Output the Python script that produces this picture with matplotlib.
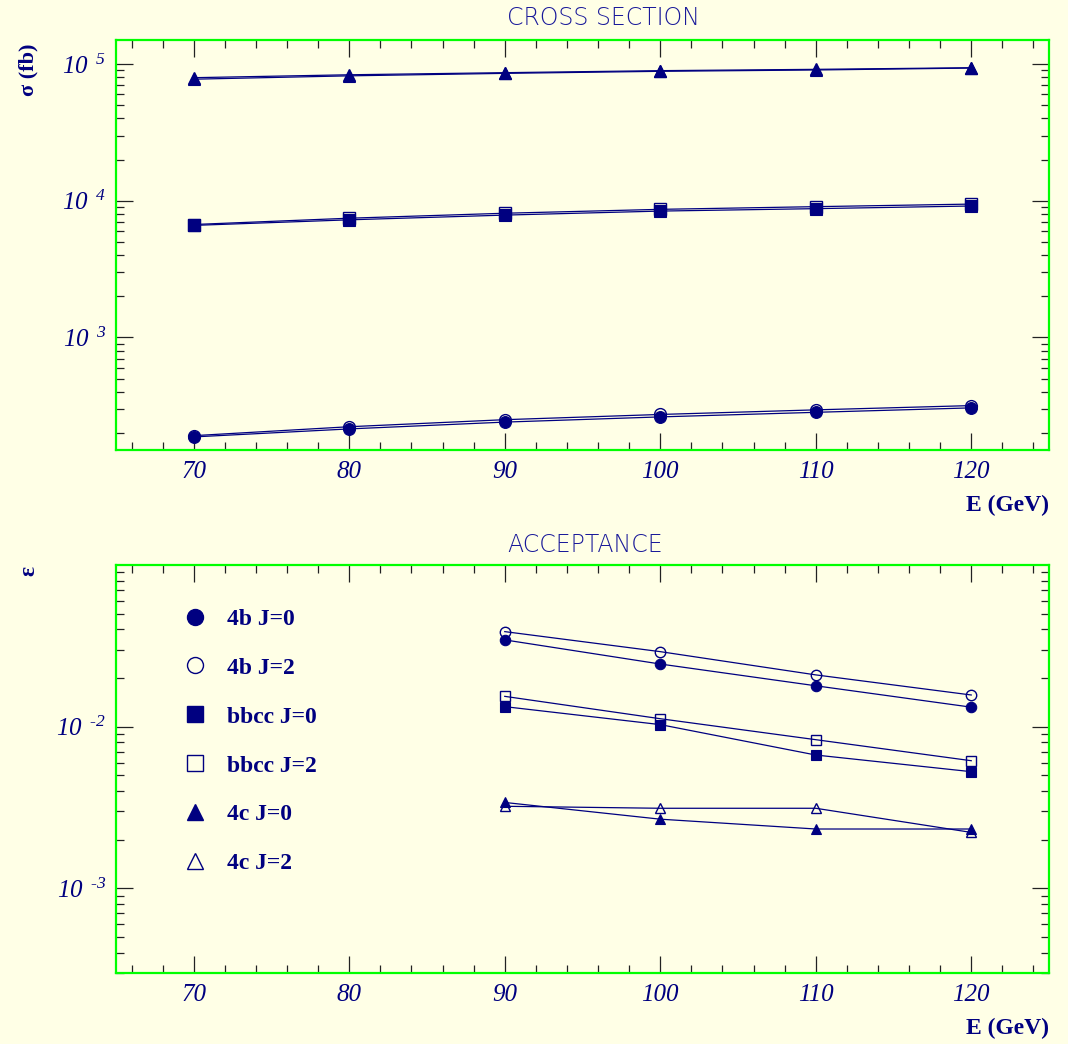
import numpy as np
import matplotlib
matplotlib.use('Agg')
import matplotlib.pyplot as plt
from matplotlib.ticker import LogLocator, MultipleLocator, FuncFormatter, NullFormatter, FixedLocator
from matplotlib.lines import Line2D

# ---------------- data ----------------
energy_xs = [70, 80, 90, 100, 110, 120]
xs_4b_j0 = [187, 214, 240, 262, 283, 305]
xs_4b_j2 = [191, 222, 250, 273, 295, 317]
xs_bbcc_j0 = [6600, 7250, 7850, 8400, 8750, 9150]
xs_bbcc_j2 = [6700, 7450, 8100, 8650, 9050, 9450]
xs_4c_j0 = [77500, 82000, 85500, 88500, 90500, 93500]
xs_4c_j2 = [79500, 83500, 86500, 89500, 91500, 94000]

energy_acc = [90, 100, 110, 120]
acc_4b_j0 = [0.0344, 0.0244, 0.0179, 0.0132]
acc_4b_j2 = [0.0387, 0.0291, 0.0209, 0.0157]
acc_bbcc_j0 = [0.0133, 0.0103, 0.00668, 0.00527]
acc_bbcc_j2 = [0.0154, 0.0112, 0.00831, 0.00616]
acc_4c_j0 = [0.00340, 0.00268, 0.00233, 0.00233]
acc_4c_j2 = [0.00322, 0.00313, 0.00313, 0.00222]

legend_labels = ['4b J=0', '4b J=2', 'bbcc J=0', 'bbcc J=2', '4c J=0', '4c J=2']
x_ticks = [70, 80, 90, 100, 110, 120]

# ---------------- style ----------------
BG = '#ffffe6'
NAVY = '#000080'
GREEN = '#00ff00'
TICKC = '#222222'

plt.rcParams['mathtext.fontset'] = 'custom'
plt.rcParams['mathtext.rm'] = 'Liberation Serif:italic'
plt.rcParams['mathtext.it'] = 'Liberation Serif:italic'
plt.rcParams['mathtext.bf'] = 'Liberation Serif:bold'

fig = plt.figure(figsize=(10.68, 10.44), dpi=100, facecolor=BG)
W, H = 1068, 1044
L, R = 116, 1049
ax1 = fig.add_axes([L / W, 1 - 450 / H, (R - L) / W, 410 / H])
ax2 = fig.add_axes([L / W, 1 - 973 / H, (R - L) / W, 408 / H])


def exp_fmt(v, pos):
    e = int(round(np.log10(v)))
    s = str(abs(e))
    if e < 0:
        s = '\u2010' + s
    return r'$10^{\ \ %s}$' % s


def style(ax, ylim):
    ax.set_facecolor(BG)
    ax.set_yscale('log')
    ax.set_xlim(65, 125)
    ax.set_ylim(*ylim)
    for s in ax.spines.values():
        s.set_color(GREEN)
        s.set_linewidth(1.6)
    ax.xaxis.set_major_locator(FixedLocator(x_ticks))
    ax.xaxis.set_minor_locator(MultipleLocator(2))
    ax.yaxis.set_major_locator(LogLocator(base=10, numticks=20))
    ax.yaxis.set_minor_locator(LogLocator(base=10, subs=np.arange(2, 10), numticks=20))
    ax.yaxis.set_major_formatter(FuncFormatter(exp_fmt))
    ax.yaxis.set_minor_formatter(NullFormatter())
    ax.tick_params(which='both', direction='in', top=True, right=True, color=TICKC, width=0.9)
    ax.tick_params(which='major', length=12.2)
    ax.tick_params(which='minor', length=5.8)
    ax.tick_params(axis='x', which='major', labelsize=18, labelcolor=NAVY, pad=8)
    ax.tick_params(axis='y', which='major', labelsize=18, labelcolor=NAVY, pad=7)
    for lab in ax.get_xticklabels():
        lab.set_family('Liberation Serif')
        lab.set_style('italic')


style(ax1, (150, 1.5e5))
style(ax2, (3e-4, 0.0999))

line_kw = dict(color=NAVY, lw=0.9)
ms_top = 8.5


def series(ax, x, y, marker, filled, ms):
    if filled:
        ax.plot(x, y, marker=marker, ms=ms, mfc=NAVY, mec=NAVY, mew=0.8, **line_kw)
    else:
        ax.plot(x, y, marker=marker, ms=ms, mfc='none', mec=NAVY, mew=1.0, **line_kw)


# top panel: J=2 first, J=0 on top
series(ax1, energy_xs, xs_4b_j2, 'o', False, ms_top)
series(ax1, energy_xs, xs_4b_j0, 'o', True, ms_top)
series(ax1, energy_xs, xs_bbcc_j2, 's', False, ms_top - 0.5)
series(ax1, energy_xs, xs_bbcc_j0, 's', True, ms_top - 0.5)
series(ax1, energy_xs, xs_4c_j2, '^', False, ms_top)
series(ax1, energy_xs, xs_4c_j0, '^', True, ms_top)

ms_bot = 7.5
series(ax2, energy_acc, acc_4b_j2, 'o', False, ms_bot)
series(ax2, energy_acc, acc_4b_j0, 'o', True, ms_bot)
series(ax2, energy_acc, acc_bbcc_j2, 's', False, ms_bot - 0.5)
series(ax2, energy_acc, acc_bbcc_j0, 's', True, ms_bot - 0.5)
series(ax2, energy_acc, acc_4c_j2, '^', False, ms_bot)
series(ax2, energy_acc, acc_4c_j0, '^', True, ms_bot)

# legend
markers = ['o', 'o', 's', 's', '^', '^']
filled = [True, False, True, False, True, False]
handles = []
for m, f, lab in zip(markers, filled, legend_labels):
    handles.append(Line2D([], [], ls='none', marker=m, ms=11.5 if m != 's' else 11,
                          mfc=NAVY if f else 'none', mec=NAVY, mew=1.0, label=lab))
leg = ax2.legend(handles=handles, loc='upper left', bbox_to_anchor=(0.0723, 0.894),
                 frameon=False, borderaxespad=0, borderpad=0, handlelength=1.0,
                 handletextpad=0.85, labelspacing=1.16,
                 prop={'family': 'Liberation Serif', 'weight': 'bold', 'size': 17})
for t in leg.get_texts():
    t.set_color(NAVY)

# titles
fig.text(507 / W, 1 - 18 / H, 'CROSS SECTION', ha='left', va='center', fontsize=17,
         color='#1a1a9a', family='DejaVu Sans', weight='light')
fig.text(507 / W, 1 - 545 / H, 'ACCEPTANCE', ha='left', va='center', fontsize=17,
         color='#1a1a9a', family='DejaVu Sans', weight='light')

# axis labels
fig.text(28 / W, 1 - 70 / H, 'σ (fb)', rotation=90, ha='center', va='center', fontsize=16,
         color=NAVY, family='Liberation Serif', weight='bold')
fig.text(29 / W, 1 - 571 / H, 'ε', rotation=90, ha='center', va='center', fontsize=17,
         color=NAVY, family='Liberation Serif', weight='bold')
fig.text(R / W, 1 - 505 / H, 'E (GeV)', ha='right', va='center', fontsize=17,
         color=NAVY, family='Liberation Serif', weight='bold')
fig.text(R / W, 1 - 1028 / H, 'E (GeV)', ha='right', va='center', fontsize=17,
         color=NAVY, family='Liberation Serif', weight='bold')

fig.savefig('out.png', dpi=100, facecolor=BG)
